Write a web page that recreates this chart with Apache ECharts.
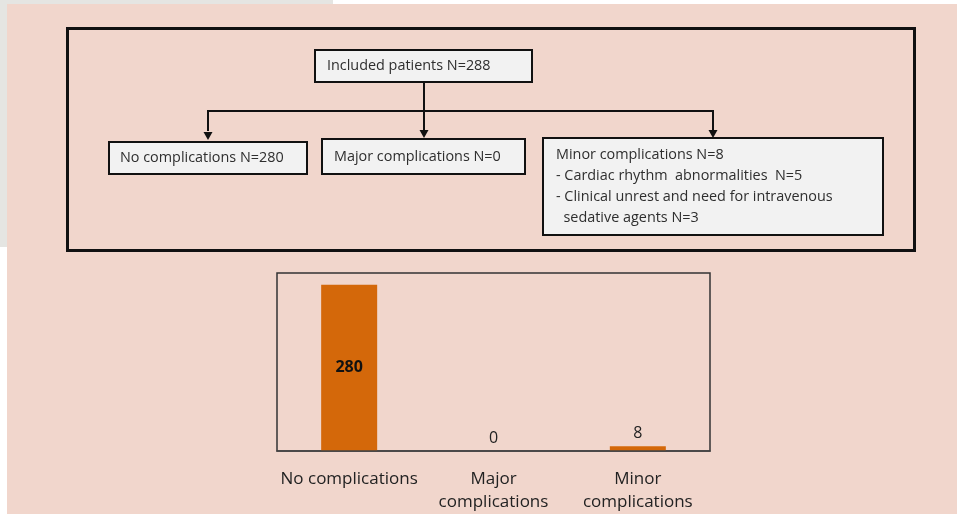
<!DOCTYPE html>
<html><head><meta charset="utf-8">
<script src="https://cdn.jsdelivr.net/npm/echarts@6/dist/echarts.min.js"></script>
<style>html,body{margin:0;padding:0;background:#fff}#c{width:957px;height:514px}</style>
</head><body><div id="c"></div>
<script>
const categories = ['No complications', 'Major\ncomplications', 'Minor\ncomplications'];
const values = [280, 0, 8];
const topBoxText = 'Included patients N=288';
const noCompText = 'No complications N=280';
const majorText = 'Major complications N=0';
const minorLines = ['Minor complications N=8', '- Cardiac rhythm  abnormalities  N=5', '- Clinical unrest and need for intravenous', '  sedative agents N=3'];

const FONT = '"Open Sans", "Noto Sans", sans-serif';
const TXT = '#2e2e2e';
const BOXFILL = '#f2f2f2';

function box(x, y, w, h) {
  return {type: 'rect', shape: {x: x, y: y, width: w, height: h}, style: {fill: BOXFILL, stroke: '#111', lineWidth: 2}, z: 10};
}
function txt(x, y, s) {
  return {type: 'text', x: x, y: y, style: {text: s, fill: TXT, font: '14.4px ' + FONT, textVerticalAlign: 'middle'}, z: 11};
}
function line(pts) {
  return {type: 'polyline', shape: {points: pts}, style: {stroke: '#111', lineWidth: 2, fill: null}, z: 9};
}
function arrowHead(x, yTip) {
  return {type: 'polygon', shape: {points: [[x - 4.5, yTip - 8], [x + 4.5, yTip - 8], [x, yTip]]}, style: {fill: '#111'}, z: 12};
}

const graphics = [
  {type: 'rect', shape: {x: 0, y: 0, width: 333, height: 247}, style: {fill: '#e5e5e2'}, z: 0},
  {type: 'rect', shape: {x: 7, y: 4, width: 950, height: 510}, style: {fill: '#f1d6cc'}, z: 1},
  {type: 'rect', shape: {x: 67.5, y: 28.5, width: 847, height: 222}, style: {fill: null, stroke: '#111', lineWidth: 3}, z: 5},
  box(315, 50, 217, 32), txt(327, 66, topBoxText),
  line([[424, 82], [424, 131]]),
  line([[208, 131], [208, 111], [713, 111], [713, 131]]),
  arrowHead(208, 140), arrowHead(424, 138), arrowHead(713, 138),
  box(109, 142, 198, 32), txt(120, 158, noCompText),
  box(322, 139, 203, 35), txt(334, 157, majorText),
  box(543, 138, 340, 97)
];
minorLines.forEach(function (s, i) { graphics.push(txt(556, 155 + i * 21, s)); });

const chart = echarts.init(document.getElementById('c'), null, {renderer: 'canvas'});
chart.setOption({
  backgroundColor: '#ffffff',
  animation: false,
  graphic: {elements: graphics},
  grid: {left: 277, top: 273, width: 433, height: 180, show: true, borderColor: '#333', borderWidth: 1.5, backgroundColor: 'transparent', z: 3},
  xAxis: {
    type: 'category', data: categories, z: 6,
    axisLine: {show: true, lineStyle: {color: '#444', width: 1.5}},
    axisTick: {show: false},
    axisLabel: {color: '#222', fontSize: 17, fontFamily: FONT, margin: 17, lineHeight: 23, interval: 0, hideOverlap: false}
  },
  yAxis: {type: 'value', min: 0, max: 300, show: false, splitLine: {show: false}},
  series: [{
    type: 'bar', barWidth: 56, z: 4,
    itemStyle: {color: '#d4680a'},
    label: {show: true, position: 'top', distance: 5, color: '#222', fontSize: 16, fontFamily: FONT},
    data: values.map(function (v, i) {
      return i === 0 ? {value: v, label: {position: 'inside', fontWeight: 'bold', color: '#111', fontSize: 16}} : v;
    })
  }]
});
</script></body></html>
